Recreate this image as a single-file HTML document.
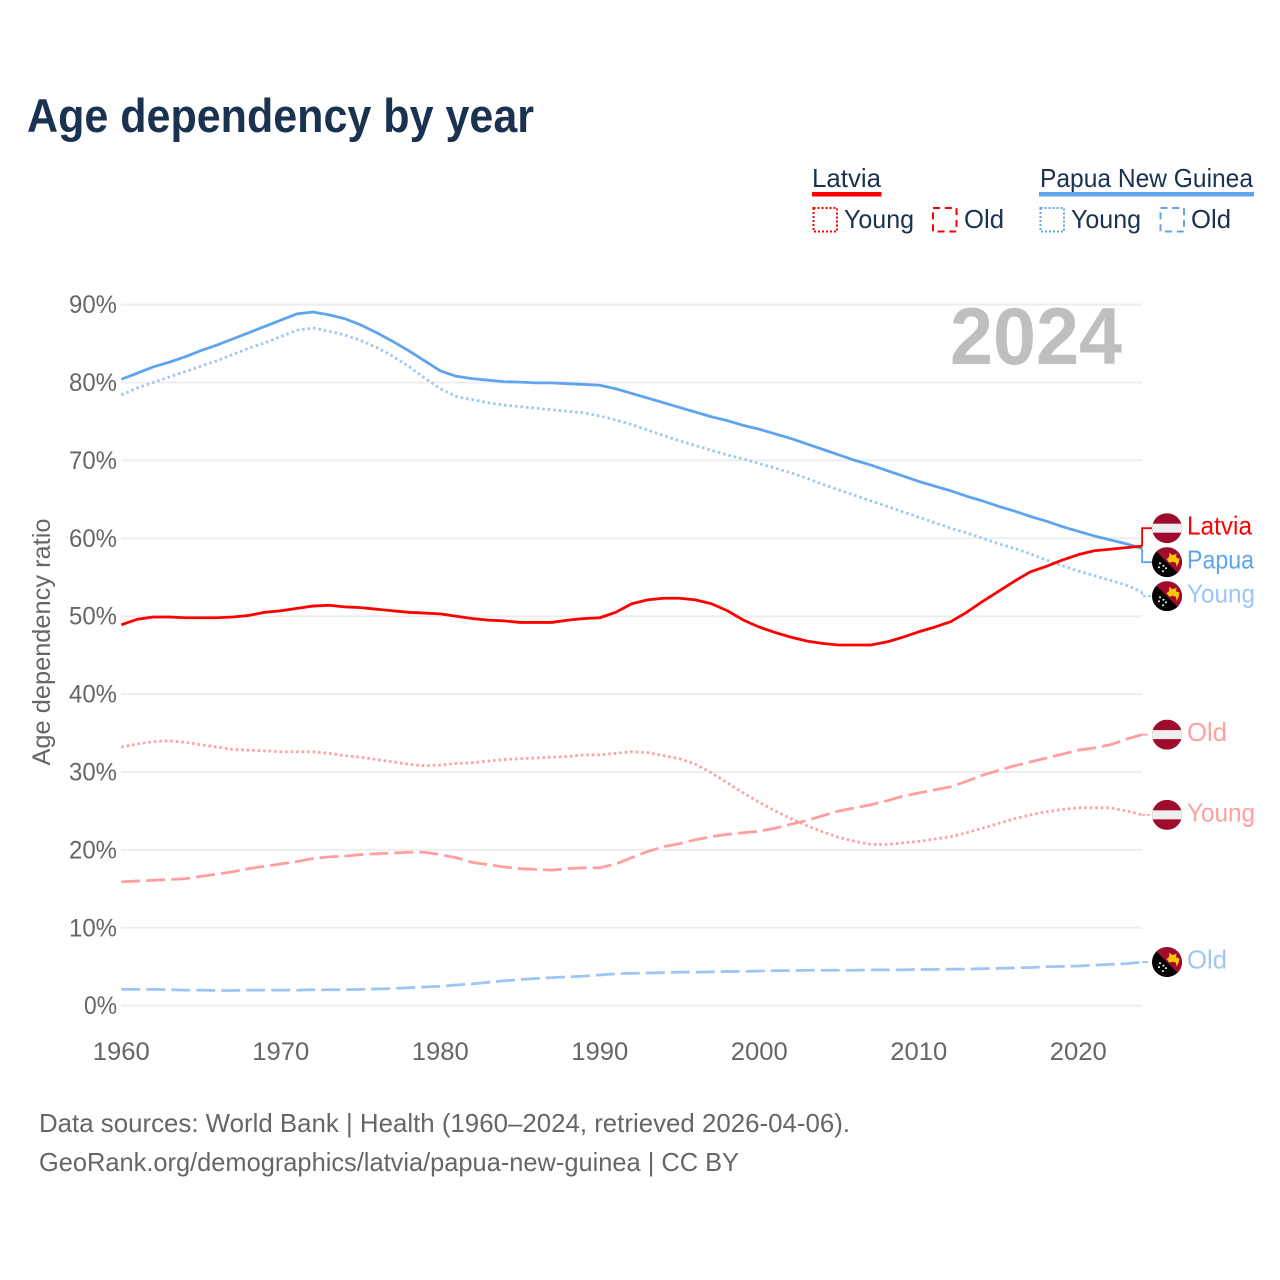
<!DOCTYPE html>
<html lang="en">
<head>
<meta charset="utf-8">
<title>Age dependency by year</title>
<style>
html,body{margin:0;padding:0;background:#fff}
svg{display:block;font-family:"Liberation Sans",Arial,sans-serif}
</style>
</head>
<body>
<svg id="chart" xmlns="http://www.w3.org/2000/svg" width="1280" height="1280" viewBox="0 0 1280 1280">
  <rect width="1280" height="1280" fill="#fff"/>
  <text x="27" y="132" font-size="47" font-weight="700" fill="#1a3150" textLength="507" lengthAdjust="spacingAndGlyphs">Age dependency by year</text>

  <g font-size="26" fill="#1a3150">
    <g>
      <text x="812" y="187" textLength="69" lengthAdjust="spacingAndGlyphs">Latvia</text>
      <rect x="812" y="192" width="69.500" height="4.500" fill="#ff0000"/>
      <rect x="813.500" y="208" width="23.500" height="23.500" fill="none" stroke="#ff0000" stroke-width="2" stroke-dasharray="2 2"/>
      <text x="844" y="228" textLength="70" lengthAdjust="spacingAndGlyphs">Young</text>
      <rect x="933" y="208" width="23.500" height="23.500" fill="none" stroke="#ff0000" stroke-width="2" stroke-dasharray="7 4.800"/>
      <text x="964" y="228" textLength="40" lengthAdjust="spacingAndGlyphs">Old</text>
    </g>
    <g>
      <text x="1040" y="187" textLength="213" lengthAdjust="spacingAndGlyphs">Papua New Guinea</text>
      <rect x="1039" y="192" width="215" height="4.500" fill="#5fa4ee"/>
      <rect x="1040.500" y="208" width="23.500" height="23.500" fill="none" stroke="#5fa4ee" stroke-width="2" stroke-dasharray="2 2"/>
      <text x="1071" y="228" textLength="70" lengthAdjust="spacingAndGlyphs">Young</text>
      <rect x="1160.500" y="208" width="23.500" height="23.500" fill="none" stroke="#5fa4ee" stroke-width="2" stroke-dasharray="7 4.800"/>
      <text x="1191" y="228" textLength="40" lengthAdjust="spacingAndGlyphs">Old</text>
    </g>
  </g>

  <g id="grid"></g>
  <g id="yticks"></g>
  <g id="xticks"></g>

  <text transform="translate(50,642) rotate(-90)" text-anchor="middle" font-size="25" fill="#666" textLength="247" lengthAdjust="spacingAndGlyphs">Age dependency ratio</text>
  <text x="950" y="364" font-size="81" font-weight="700" fill="#bfbfbf" textLength="172" lengthAdjust="spacingAndGlyphs">2024</text>

  <g id="series"></g>
  <g id="labels"></g>

  <g font-size="26" fill="#666">
    <text x="39" y="1132" textLength="811" lengthAdjust="spacingAndGlyphs">Data sources: World Bank | Health (1960–2024, retrieved 2026-04-06).</text>
    <text x="39" y="1171" textLength="700" lengthAdjust="spacingAndGlyphs">GeoRank.org/demographics/latvia/papua-new-guinea | CC BY</text>
  </g>
</svg>

<script>
const startYear = 1960;
const xTickLabels = [1960, 1970, 1980, 1990, 2000, 2010, 2020];
const yTickLabels = [0, 10, 20, 30, 40, 50, 60, 70, 80, 90];

const latviaTotal = [
  48.9, 49.6, 49.9, 49.9, 49.8, 49.8, 49.8, 49.9, 50.1, 50.5,
  50.7, 51.0, 51.3, 51.4, 51.2, 51.1, 50.9, 50.7, 50.5, 50.4,
  50.3, 50.0, 49.7, 49.5, 49.4, 49.2, 49.2, 49.2, 49.5, 49.7,
  49.8, 50.5, 51.6, 52.1, 52.3, 52.3, 52.1, 51.6, 50.7, 49.5,
  48.6, 47.9, 47.3, 46.8, 46.5, 46.3, 46.3, 46.3, 46.7, 47.3,
  48.0, 48.6, 49.3, 50.5, 51.9, 53.2, 54.5, 55.7, 56.4, 57.2,
  57.9, 58.4, 58.6, 58.8, 59.0
];
const latviaYoung = [
  33.2, 33.6, 33.9, 34.0, 33.8, 33.5, 33.2, 32.9, 32.8, 32.7,
  32.6, 32.6, 32.6, 32.4, 32.1, 31.9, 31.6, 31.3, 31.0, 30.8,
  30.9, 31.1, 31.2, 31.4, 31.6, 31.7, 31.8, 31.9, 32.0, 32.2,
  32.2, 32.4, 32.6, 32.5, 32.1, 31.7, 31.0, 29.9, 28.6, 27.3,
  26.1, 25.0, 24.0, 23.1, 22.3, 21.6, 21.1, 20.7, 20.7, 20.9,
  21.1, 21.4, 21.7, 22.2, 22.8, 23.4, 24.0, 24.5, 24.9, 25.2,
  25.4, 25.4, 25.4, 25.0, 24.5
];
const latviaOld = [
  15.9, 16.0, 16.1, 16.2, 16.3, 16.6, 16.9, 17.2, 17.6, 17.9,
  18.2, 18.5, 18.9, 19.1, 19.2, 19.4, 19.5, 19.6, 19.7, 19.7,
  19.4, 19.0, 18.4, 18.1, 17.8, 17.6, 17.5, 17.4, 17.6, 17.7,
  17.7, 18.2, 19.0, 19.8, 20.4, 20.8, 21.3, 21.7, 22.0, 22.2,
  22.4, 22.8, 23.3, 23.8, 24.4, 25.0, 25.4, 25.8, 26.3, 26.9,
  27.3, 27.7, 28.1, 28.8, 29.6, 30.2, 30.8, 31.3, 31.8, 32.3,
  32.8, 33.1, 33.5, 34.2, 34.8
];
const papuaTotal = [
  80.4, 81.2, 82.0, 82.6, 83.3, 84.1, 84.8, 85.6, 86.4, 87.2,
  88.0, 88.8, 89.05, 88.7, 88.2, 87.4, 86.4, 85.3, 84.1, 82.8,
  81.5, 80.8, 80.5, 80.3, 80.1, 80.05, 79.95, 79.95, 79.85, 79.75,
  79.65, 79.2, 78.6, 78.0, 77.4, 76.8, 76.2, 75.6, 75.1, 74.5,
  74.0, 73.4, 72.8, 72.1, 71.4, 70.7, 70.0, 69.4, 68.7, 68.0,
  67.3, 66.7, 66.1, 65.4, 64.8, 64.1, 63.5, 62.8, 62.2, 61.5,
  60.9, 60.3, 59.8, 59.3, 58.7
];
const papuaYoung = [
  78.4, 79.3, 80.0, 80.7, 81.4, 82.1, 82.8, 83.6, 84.4, 85.1,
  85.9, 86.7, 87.0, 86.6, 86.1, 85.4, 84.5, 83.4, 82.1, 80.6,
  79.2, 78.2, 77.8, 77.4, 77.1, 76.9, 76.7, 76.5, 76.3, 76.1,
  75.7, 75.2, 74.6, 73.9, 73.2, 72.5, 71.9, 71.3, 70.7, 70.2,
  69.6, 69.0, 68.4, 67.7, 66.9, 66.2, 65.5, 64.8, 64.1, 63.4,
  62.7, 62.0, 61.3, 60.7, 60.0, 59.3, 58.7, 58.0, 57.2, 56.5,
  55.8, 55.2, 54.6, 54.0, 53.1
];
const papuaOld = [
  2.1, 2.1, 2.1, 2.05, 2.0, 2.0, 1.95, 1.95, 2.0, 2.0,
  2.0, 2.0, 2.05, 2.05, 2.05, 2.1, 2.15, 2.2, 2.3, 2.4,
  2.5, 2.65, 2.8, 3.0, 3.2, 3.35, 3.5, 3.6, 3.7, 3.8,
  3.95, 4.1, 4.15, 4.2, 4.25, 4.3, 4.3, 4.35, 4.4, 4.4,
  4.45, 4.5, 4.5, 4.55, 4.55, 4.55, 4.55, 4.6, 4.6, 4.6,
  4.65, 4.65, 4.7, 4.7, 4.75, 4.8, 4.85, 4.9, 5.0, 5.05,
  5.1, 5.2, 5.3, 5.4, 5.6
];

const NS = 'http://www.w3.org/2000/svg';
const RED = '#ff0000', RED_LIGHT = '#ff9f9f', BLUE = '#5fa4ee', BLUE_LIGHT = '#9fc6f3';
const DOT = '2.5 3', DASH = '19 6';

function xScale(year) { return 121.3 + (year - startYear) * 15.95; }
function yScale(pct) { return 1005.7 - pct * 7.79; }

function make(tag, attrs, parent) {
  const el = document.createElementNS(NS, tag);
  for (const k in attrs) el.setAttribute(k, attrs[k]);
  parent.appendChild(el);
  return el;
}

const gridG = document.getElementById('grid');
const yG = document.getElementById('yticks');
const xG = document.getElementById('xticks');
const seriesG = document.getElementById('series');
const labelsG = document.getElementById('labels');

yTickLabels.forEach(function (v) {
  const line = make('line', { x1: 121, x2: 1142, y1: yScale(v), y2: yScale(v), stroke: '#eeeeee', 'stroke-width': 2 }, gridG);
  
  
  const t = make('text', { x: 117, y: yScale(v) + 8.5, 'text-anchor': 'end', 'font-size': 25, fill: '#666' }, yG);
  t.textContent = v + '%';
  t.setAttribute('textLength', v === 0 ? 33 : 48);
  t.setAttribute('lengthAdjust', 'spacingAndGlyphs');
  
  
});

xTickLabels.forEach(function (v) {
  const t = make('text', { x: xScale(v), y: 1060, 'text-anchor': 'middle', 'font-size': 25, fill: '#666' }, xG);
  t.textContent = v;
  t.setAttribute('textLength', 57);
  t.setAttribute('lengthAdjust', 'spacingAndGlyphs');
  
  
});

const seriesList = [
  { key: 'papua-old', values: papuaOld, color: BLUE_LIGHT, dash: DASH, label: 'Old', flag: 'pg' },
  { key: 'papua-young', values: papuaYoung, color: BLUE_LIGHT, dash: DOT, label: 'Young', flag: 'pg' },
  { key: 'latvia-old', values: latviaOld, color: RED_LIGHT, dash: DASH, label: 'Old', flag: 'lv' },
  { key: 'latvia-young', values: latviaYoung, color: RED_LIGHT, dash: DOT, label: 'Young', flag: 'lv' },
  { key: 'papua-total', values: papuaTotal, color: BLUE, dash: null, label: 'Papua', flag: 'pg' },
  { key: 'latvia-total', values: latviaTotal, color: RED, dash: null, label: 'Latvia', flag: 'lv' }
];

// Lines
seriesList.forEach(function (s) {
  const d = s.values.map(function (v, i) {
    return (i ? 'L' : 'M') + xScale(startYear + i).toFixed(2) + ' ' + yScale(v).toFixed(2);
  }).join(' ');
  const p = make('path', { d: d, fill: 'none', stroke: s.color, 'stroke-width': 2.8, 'stroke-linejoin': 'round' }, seriesG);
  if (s.dash) p.setAttribute('stroke-dasharray', s.dash);
  
  
});

// End-label placement: labels that collide are grouped around their mean
const ROW = 34;
const ends = seriesList.map(function (s) {
  return { s: s, y: yScale(s.values[s.values.length - 1]) };
}).sort(function (a, b) { return a.y - b.y; });
let clusters = ends.map(function (e) { return { items: [e], c: e.y }; });
let merged = true;
while (merged) {
  merged = false;
  for (let i = 0; i < clusters.length - 1; i++) {
    const a = clusters[i], b = clusters[i + 1];
    const aBottom = a.c + (a.items.length - 1) * ROW / 2;
    const bTop = b.c - (b.items.length - 1) * ROW / 2;
    if (bTop - aBottom < ROW) {
      const items = a.items.concat(b.items);
      const c = items.reduce(function (t, e) { return t + e.y; }, 0) / items.length;
      clusters.splice(i, 2, { items: items, c: c });
      merged = true;
      break;
    }
  }
}

function drawFlag(kind, cx, cy, parent) {
  const g = make('g', {}, parent);
  const id = 'clip-' + Math.round(cy);
  const cp = make('clipPath', { id: id }, g);
  make('circle', { cx: cx, cy: cy, r: 15 }, cp);
  const inner = make('g', { 'clip-path': 'url(#' + id + ')' }, g);
  if (kind === 'lv') {
    make('rect', { x: cx - 15, y: cy - 15, width: 30, height: 30, fill: '#9e0b2b' }, inner);
    make('rect', { x: cx - 15, y: cy - 4.5, width: 30, height: 9, fill: '#eeeeee' }, inner);
  } else {
    make('rect', { x: cx - 15, y: cy - 15, width: 30, height: 30, fill: '#000' }, inner);
    make('path', { d: 'M' + (cx - 15) + ' ' + (cy - 15) + 'h30v30z', fill: '#a00c2c' }, inner);
    make('path', {
      d: 'M' + (cx - 0.5) + ' ' + (cy - 3) + 'l2.5 -2 0.5 -4.5 3 2.500 4 -1.500 -0.5 3.500 3.500 1.500 -1 4.500 -2 3.500 -0.5 -4 -3.500 -1 -3 1z',
      fill: '#fcc30b'
    }, inner);
    [[-7, 1], [-3.5, 3.5], [-8, 5], [-4, 9], [-1, 6]].forEach(function (p) {
      make('circle', { cx: cx + p[0], cy: cy + p[1], r: 1, fill: '#fff' }, inner);
    });
  }
  return g;
}

clusters.forEach(function (cl) {
  cl.items.forEach(function (e, i) {
    const s = e.s;
    const ly = cl.c + (i - (cl.items.length - 1) / 2) * ROW;
    const ex = xScale(startYear + s.values.length - 1);
    const conn = make('path', {
      d: 'M' + ex.toFixed(2) + ' ' + e.y.toFixed(2) + ' L' + ex.toFixed(2) + ' ' + ly.toFixed(2) + ' L1153 ' + ly.toFixed(2),
      fill: 'none', stroke: s.color, 'stroke-width': 1.8
    }, labelsG);
    if (s.dash) conn.setAttribute('stroke-dasharray', s.dash === DOT ? '3 2' : '6 4');
    
    
    const flag = drawFlag(s.flag, 1167, ly, labelsG);
    
    
    const t = make('text', { x: 1187, y: ly + 6.5, 'font-size': 26, fill: s.color }, labelsG);
    t.textContent = s.label;
    const widths = { Latvia: 65, Papua: 67, Young: 68, Old: 40 };
    t.setAttribute('textLength', widths[s.label]);
    t.setAttribute('lengthAdjust', 'spacingAndGlyphs');
    
    
  });
});
</script>
</body>
</html>
